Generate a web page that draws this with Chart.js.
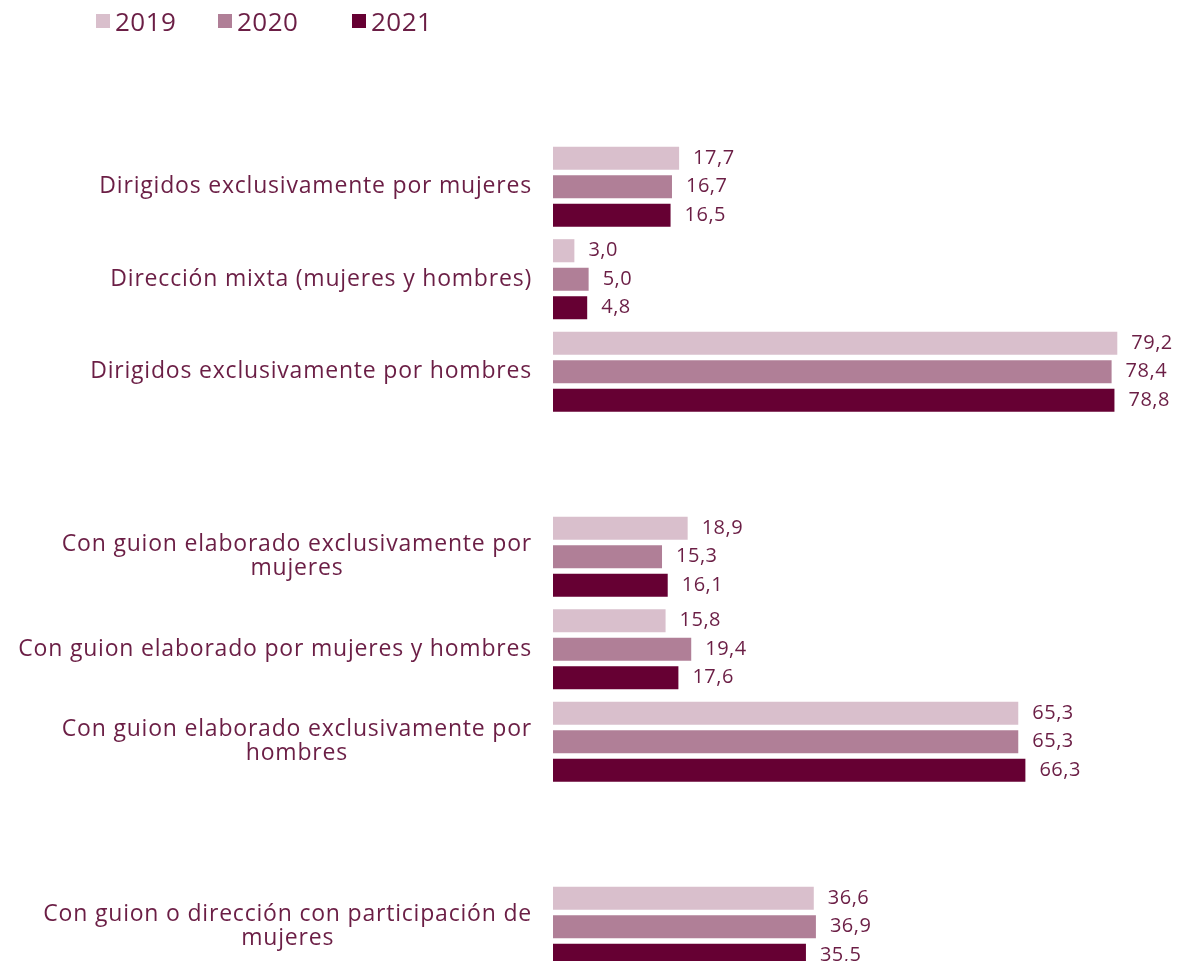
<!DOCTYPE html>
<html>
<head>
<meta charset="utf-8">
<script src="https://cdn.jsdelivr.net/npm/chart.js@4.4.1/dist/chart.umd.min.js"></script>
<style>
  html, body { margin: 0; padding: 0; background: #fff; overflow: hidden; }
  #wrap { position: relative; width: 1180px; height: 976px; }
  #legend { position: absolute; left: 96px; top: 3px; display: flex; font-family: "Open Sans", sans-serif; font-size: 26px; color: #6b1e45; letter-spacing: 0.5px; }
  #legend span.item { display: flex; align-items: center; }
  #legend span.item:nth-child(1) { width: 122px; }
  #legend span.item:nth-child(2) { width: 134px; }
  #legend span.box { width: 14px; height: 14px; margin-right: 5px; display: inline-block; }
</style>
</head>
<body>
<div id="wrap">
  <div id="legend"></div>
  <canvas id="barChart"></canvas>
</div>
<script>
const categories = [
    "",
    "Dirigidos exclusivamente por mujeres",
    "Dirección mixta (mujeres y hombres)",
    "Dirigidos exclusivamente por hombres",
    "",
    ["Con guion elaborado exclusivamente por", "mujeres"],
    "Con guion elaborado por mujeres y hombres",
    ["Con guion elaborado exclusivamente por", "hombres"],
    "",
    ["Con guion o dirección con participación de", "mujeres"]
];
const years = ["2019", "2020", "2021"];
const values2019 = [null, 17.7, 3.0, 79.2, null, 18.9, 15.8, 65.3, null, 36.6];
const values2020 = [null, 16.7, 5.0, 78.4, null, 15.3, 19.4, 65.3, null, 36.9];
const values2021 = [null, 16.5, 4.8, 78.8, null, 16.1, 17.6, 66.3, null, 35.5];

const barColors = ["#d9bfcc", "#b07f97", "#660033"];
const textColor = "#6b1e45";
const fontName = "'Open Sans', sans-serif";

// legend
const legendBox = document.getElementById("legend");
years.forEach(function(y, i){
    legendBox.innerHTML += '<span class="item"><span class="box" style="background:' + barColors[i] + '"></span>' + y + '</span>';
});

// category labels, lines centred but block right aligned
const yLabels = {
    id: "yLabels",
    afterDraw(chart) {
        const ctx = chart.ctx;
        const y = chart.scales.y;
        ctx.save();
        ctx.font = "23px " + fontName;
        ctx.letterSpacing = "0.8px";
        ctx.fillStyle = textColor;
        ctx.textAlign = "center";
        ctx.textBaseline = "middle";
        categories.forEach(function(lab, i){
            const lines = Array.isArray(lab) ? lab : [lab];
            if (!lines[0]) return;
            const w = Math.max(...lines.map(l => ctx.measureText(l).width));
            const cx = y.right - 21 - w / 2;
            const cy = y.getPixelForValue(i);
            lines.forEach(function(l, k){
                ctx.fillText(l, cx, cy + (k - (lines.length - 1) / 2) * 24);
            });
        });
        ctx.restore();
    }
};

// value labels at the end of each bar
const valueLabels = {
    id: "valueLabels",
    afterDatasetsDraw(chart) {
        const ctx = chart.ctx;
        ctx.save();
        ctx.font = "20px " + fontName;
        ctx.letterSpacing = "0.5px";
        ctx.fillStyle = textColor;
        ctx.textAlign = "left";
        ctx.textBaseline = "middle";
        chart.data.datasets.forEach(function(ds, d){
            chart.getDatasetMeta(d).data.forEach(function(bar, i){
                const v = ds.data[i];
                if (v === null) return;
                ctx.fillText(v.toFixed(1).replace(".", ","), bar.x + 14, bar.y);
            });
        });
        ctx.restore();
    }
};

new Chart("barChart", {
    type: "bar",
    data: {
        labels: categories,
        datasets: [
            { label: years[0], data: values2019, backgroundColor: barColors[0] },
            { label: years[1], data: values2020, backgroundColor: barColors[1] },
            { label: years[2], data: values2021, backgroundColor: barColors[2] }
        ]
    },
    options: {
        indexAxis: "y",
        responsive: true,
        maintainAspectRatio: false,
        animation: false,
        layout: { padding: { top: 48, bottom: 3, left: 0, right: 0 } },
        categoryPercentage: 0.925,
        barPercentage: 0.81,
        plugins: {
            legend: { display: false },
            tooltip: { enabled: false }
        },
        scales: {
            x: { display: false, min: 0, max: 88 },
            y: {
                grid: { display: false },
                border: { display: false },
                ticks: { display: false },
                afterFit(scale) { scale.width = 553; }
            }
        }
    },
    plugins: [yLabels, valueLabels]
});
</script>
</body>
</html>
